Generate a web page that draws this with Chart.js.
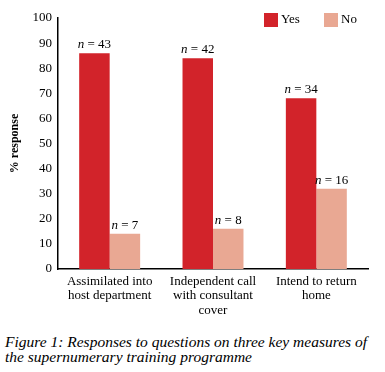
<!doctype html>
<html>
<head>
  <meta charset="utf-8">
  <script src="https://cdn.jsdelivr.net/npm/chart.js@4/dist/chart.umd.min.js"></script>
  <style>
    body { margin: 0; background: #fff; }
    #wrap { position: relative; width: 385px; height: 322px; }
    #cap { position: absolute; left: 5px; top: 334px; width: 372px;
      font-family: "Liberation Serif", "Times New Roman", serif; font-style: italic; font-size: 15.5px; line-height: 15px; color: #000; }
  </style>
</head>
<body>
  <div id="wrap"><canvas id="c"></canvas></div>
  <div id="cap">Figure 1: Responses to questions on three key measures of the supernumerary training programme</div>
  <script>
    const categories = [['Assimilated into', 'host department'], ['Independent call', 'with consultant', 'cover'], ['Intend to return', 'home']];
    const yesValues = [86, 84, 68];
    const noValues = [14, 16, 32];
    const yesN = [43, 42, 34];
    const noN = [7, 8, 16];
    const yTicks = [0, 10, 20, 30, 40, 50, 60, 70, 80, 90, 100];

    const serif = '"Liberation Serif", "Times New Roman", serif';
    const red = '#d2232a';
    const salmon = '#e9a893';

    // n = xx labels above each bar, plus the legend at top right
    const extras = {
      id: 'extras',
      afterDatasetsDraw(chart) {
        const ctx = chart.ctx;
        ctx.save();
        ctx.fillStyle = '#000';
        ctx.textBaseline = 'alphabetic';
        const counts = [yesN, noN];
        chart.data.datasets.forEach((ds, i) => {
          chart.getDatasetMeta(i).data.forEach((bar, j) => {
            const a = 'n';
            const b = ' = ' + counts[i][j];
            ctx.font = 'italic 13px ' + serif;
            const wa = ctx.measureText(a).width;
            ctx.font = '13px ' + serif;
            const wb = ctx.measureText(b).width;
            const x0 = bar.x - (wa + wb) / 2;
            const y0 = bar.y - 5;
            ctx.font = 'italic 13px ' + serif;
            ctx.textAlign = 'left';
            ctx.fillText(a, x0, y0);
            ctx.font = '13px ' + serif;
            ctx.fillText(b, x0 + wa, y0);
          });
        });
        // legend
        const items = [['Yes', red, 264], ['No', salmon, 324]];
        ctx.font = '13px ' + serif;
        ctx.textBaseline = 'middle';
        items.forEach(([t, col, x]) => {
          ctx.fillStyle = col;
          ctx.fillRect(x, 13, 14, 14);
          ctx.fillStyle = '#000';
          ctx.fillText(t, x + 17, 20);
        });
        ctx.restore();
      }
    };

    new Chart(document.getElementById('c'), {
      type: 'bar',
      data: {
        labels: categories,
        datasets: [
          { label: 'Yes', data: yesValues, backgroundColor: red },
          { label: 'No', data: noValues, backgroundColor: salmon }
        ]
      },
      options: {
        responsive: true,
        maintainAspectRatio: false,
        animation: false,
        datasets: { bar: { categoryPercentage: 0.59, barPercentage: 1 } },
        layout: { padding: { left: 0, right: 17, top: 18, bottom: 0 } },
        plugins: { legend: { display: false }, tooltip: { enabled: false } },
        scales: {
          x: {
            grid: { display: false, drawTicks: false },
            border: { display: true, color: '#000', width: 1.5 },
            ticks: { color: '#000', font: { family: serif, size: 13, lineHeight: 1.08 }, padding: 6, maxRotation: 0, autoSkip: false },
            afterFit: (s) => { s.height = 53; }
          },
          y: {
            min: 0, max: 100,
            afterBuildTicks: (s) => { s.ticks = yTicks.map(v => ({ value: v })); },
            grid: { display: false, drawTicks: false },
            border: { display: true, color: '#000', width: 1.5 },
            ticks: { color: '#000', font: { family: serif, size: 13 }, padding: 6 },
            title: { display: true, text: '% response', color: '#000', font: { family: serif, size: 12, weight: 'bold' }, padding: { top: 8, bottom: 0 } },
            afterFit: (s) => { s.width = 58; }
          }
        }
      },
      plugins: [extras]
    });
  </script>
</body>
</html>
